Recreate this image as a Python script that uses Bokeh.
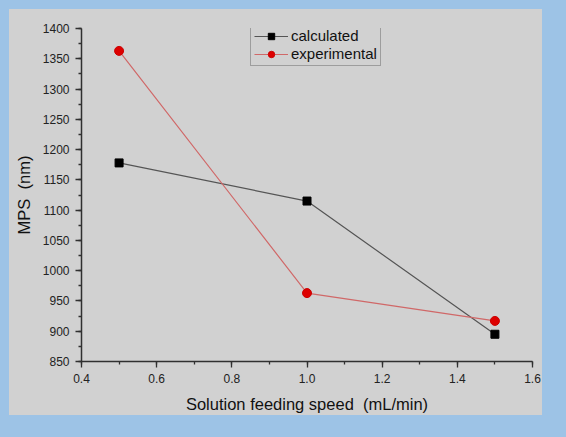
from bokeh.plotting import figure
from bokeh.layouts import column, row
from bokeh.models import (Legend, LegendItem, Range1d, SingleIntervalTicker, Spacer,
                          PrintfTickFormatter)
from bokeh.embed import file_html
from bokeh.resources import INLINE

speed = [0.5, 1.0, 1.5]
calculated = [1178, 1115, 895]
experimental = [1363, 963, 917]

GRAY = "#d1d1d1"
BLUE = "#9dc3e6"
FONT = "Liberation Sans"

p = figure(width=533, height=406, output_backend="svg", toolbar_location=None,
           x_range=Range1d(0.4, 1.6), y_range=Range1d(850, 1400),
           min_border_left=72, min_border_right=10, min_border_top=19,
           min_border_bottom=53, styles={"background-color": GRAY})
p.background_fill_color = GRAY
p.border_fill_color = GRAY
p.outline_line_color = None
p.outline_line_alpha = 0
p.outline_line_width = 0
p.xgrid.visible = False
p.ygrid.visible = False

p.xaxis.ticker = SingleIntervalTicker(interval=0.2, num_minor_ticks=2)
p.yaxis.ticker = SingleIntervalTicker(interval=50, num_minor_ticks=2)
p.xaxis.formatter = PrintfTickFormatter(format="%.1f")
p.xaxis.axis_label = "Solution feeding speed\u00a0 (mL/min)"
p.yaxis.axis_label = "MPS\u00a0 (nm)"
for ax in (p.xaxis[0], p.yaxis[0]):
    ax.axis_line_color = "#303030"
    ax.axis_line_width = 1.5
    ax.major_tick_line_color = "#303030"
    ax.minor_tick_line_color = "#303030"
    ax.major_tick_line_width = 1.3
    ax.minor_tick_line_width = 1.3
    ax.major_tick_in = 0
    ax.major_tick_out = 6
    ax.minor_tick_in = 0
    ax.minor_tick_out = 3
    ax.major_label_text_font = FONT
    ax.major_label_text_font_size = "12px"
    ax.major_label_text_color = "#222222"
    ax.axis_label_text_font = FONT
    ax.axis_label_text_font_size = "16.5px"
    ax.axis_label_text_font_style = "normal"
    ax.axis_label_text_color = "#111111"
p.xaxis.major_label_standoff = 6
p.xaxis.axis_label_standoff = 9
p.yaxis.major_label_standoff = 6
p.yaxis.axis_label_standoff = 7

l1 = p.line(speed, calculated, line_color="#555555", line_width=1.2)
m1 = p.scatter(speed, calculated, marker="square", size=8, fill_color="black",
               line_color="black")
l2 = p.line(speed, experimental, line_color="#d06868", line_width=1.2)
m2 = p.scatter(speed, experimental, marker="circle", size=9, fill_color="#dd0000",
               line_color="#cc0000")

legend = Legend(items=[LegendItem(label="calculated", renderers=[l1, m1]),
                       LegendItem(label="experimental", renderers=[l2, m2])],
                location=(169, 295))
legend.background_fill_color = GRAY
legend.background_fill_alpha = 1.0
legend.border_line_color = "#6a6a6a"
legend.border_line_width = 1.2
legend.label_text_font = FONT
legend.label_text_font_size = "15px"
legend.label_text_color = "#111111"
legend.glyph_width = 34
legend.glyph_height = 16
legend.label_height = 16
legend.spacing = 1
legend.padding = 3
legend.margin = 0
legend.label_standoff = 3
p.add_layout(legend, "center")

inner = row(Spacer(width=9, height=406), p, Spacer(width=24, height=406))
layout = column(Spacer(width=566, height=9), inner, Spacer(width=566, height=22),
                styles={"background-color": BLUE})

open("out.html", "w").write(file_html(layout, INLINE))
